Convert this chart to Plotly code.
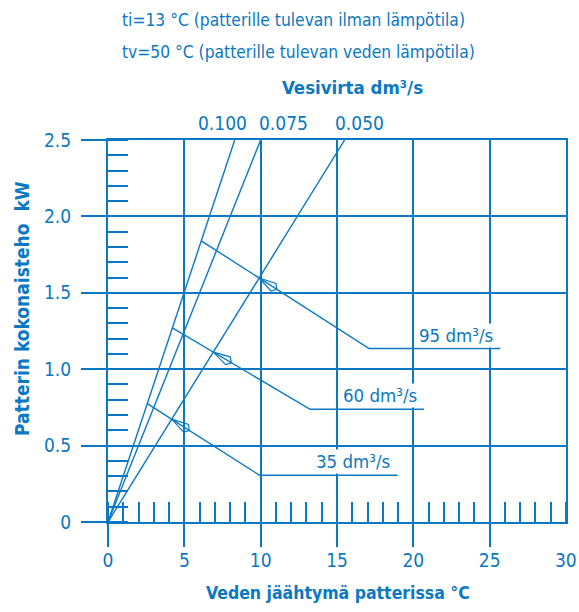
import numpy as np
import plotly.graph_objects as go

# Water-flow lines: each runs from the origin to the cooling (°C) reached at 2.5 kW
water_flow_labels = ["0.100", "0.075", "0.050"]
water_dt_at_top = [8.3, 10.0, 15.5]
water_label_dt = [7.47, 11.5, 16.45]
top_power = 2.5

# Air-flow lines: start on the 0.100 line, cross the 0.050 line, bend to a horizontal leader
air_flow_labels = ["95 dm³/s", "60 dm³/s", "35 dm³/s"]
air_start_power = [1.84, 1.27, 0.775]
air_elbow_dt = [17.1, 13.24, 9.92]
air_elbow_power = [1.135, 0.738, 0.306]
air_leader_end_dt = [25.7, 20.7, 18.96]

# Axis ticks
x_ticks = [0, 5, 10, 15, 20, 25, 30]
y_ticks = [0, 0.5, 1.0, 1.5, 2.0, 2.5]
y_tick_text = ["0", "0.5", "1.0", "1.5", "2.0", "2.5"]

BLUE = "#0a78c2"
FONT = "DejaVu Sans Condensed, Liberation Sans Narrow, Arial Narrow, sans-serif"
TICK_SIZE = 19

W, H = 579, 612
M = dict(l=108, r=13, t=140, b=90)
X_RANGE = [0, 30]
Y_RANGE = [0, 2.5]
sx = (W - M["l"] - M["r"]) / (X_RANGE[1] - X_RANGE[0])  # px per °C
sy = (H - M["t"] - M["b"]) / (Y_RANGE[1] - Y_RANGE[0])  # px per kW

fig = go.Figure()

line_style = dict(color=BLUE, width=1.4)

# water-flow lines through the origin
for dt in water_dt_at_top:
    fig.add_trace(go.Scatter(x=[0, dt], y=[0, top_power], mode="lines",
                             line=line_style, hoverinfo="skip", showlegend=False))

slope_low = water_dt_at_top[-1] / top_power    # °C per kW on the 0.050 line
slope_high = water_dt_at_top[0] / top_power    # °C per kW on the 0.100 line

for p0, ex, ey, xend in zip(air_start_power, air_elbow_dt, air_elbow_power, air_leader_end_dt):
    x0 = slope_high * p0
    # intersection of the air-flow line with the 0.050 water line
    m = (ey - p0) / (ex - x0)          # kW per °C
    yi = (p0 - m * x0) / (1 - m * slope_low)
    xi = slope_low * yi
    fig.add_trace(go.Scatter(x=[x0, ex, xend], y=[p0, ey, ey], mode="lines",
                             line=line_style, hoverinfo="skip", showlegend=False))

    # open dart-shaped arrowhead pointing at the crossing point
    ux, uy = (ex - xi) * sx, -(ey - yi) * sy
    n = np.hypot(ux, uy)
    ux, uy = ux / n, uy / n
    nx, ny = -uy, ux
    pts_px = [(0, 0),
              (17 * ux + 4.5 * nx, 17 * uy + 4.5 * ny),
              (21 * ux, 21 * uy),
              (17 * ux - 4.5 * nx, 17 * uy - 4.5 * ny),
              (0, 0)]
    fig.add_trace(go.Scatter(x=[xi + px / sx for px, py in pts_px],
                             y=[yi - py / sy for px, py in pts_px],
                             mode="lines", line=dict(color=BLUE, width=1.2),
                             hoverinfo="skip", showlegend=False))

# water-flow labels above the chart
for lab, xl in zip(water_flow_labels, water_label_dt):
    fig.add_annotation(x=xl, y=top_power, xref="x", yref="y", text=lab,
                       showarrow=False, yanchor="bottom", yshift=4,
                       font=dict(family=FONT, size=TICK_SIZE, color=BLUE))

# air-flow labels sitting on their leaders
for lab, ey, xend in zip(air_flow_labels, air_elbow_power, air_leader_end_dt):
    fig.add_annotation(x=xend, y=ey, xref="x", yref="y", text=lab,
                       showarrow=False, xanchor="right", yanchor="bottom",
                       xshift=-5, yshift=1, bgcolor="white", borderpad=1,
                       font=dict(family=FONT, size=18.5, color=BLUE))

# last x tick label (no tick stub below the right border)
fig.add_annotation(x=x_ticks[-1], y=0, xref="x", yref="y", text=str(x_ticks[-1]),
                   showarrow=False, yanchor="middle", yshift=-38,
                   font=dict(family=FONT, size=TICK_SIZE, color=BLUE))

def px_to_paper(px, py):
    return ((px - M["l"]) / (W - M["l"] - M["r"]),
            (H - M["b"] - py) / (H - M["t"] - M["b"]))

hdr = dict(family=FONT, size=17.3, color=BLUE)
for txt, py in [("ti=13 °C (patterille tulevan ilman lämpötila)", 20),
                ("tv=50 °C (patterille tulevan veden lämpötila)", 52)]:
    ax_, ay_ = px_to_paper(120, py)
    fig.add_annotation(x=ax_, y=ay_, xref="paper", yref="paper", text=txt,
                       showarrow=False, xanchor="left", yanchor="middle", font=hdr)

def bold(size):
    return dict(family=FONT, size=size, color=BLUE, weight="bold")

ax_, ay_ = px_to_paper(352, 88)
fig.add_annotation(x=ax_, y=ay_, xref="paper", yref="paper", text="Vesivirta dm³/s",
                   showarrow=False, xanchor="center", yanchor="middle", font=bold(18.5))
ax_, ay_ = px_to_paper(338, 593)
fig.add_annotation(x=ax_, y=ay_, xref="paper", yref="paper", text="Veden jäähtymä patterissa °C",
                   showarrow=False, xanchor="center", yanchor="middle", font=bold(17.5))
ax_, ay_ = px_to_paper(22, 309)
fig.add_annotation(x=ax_, y=ay_, xref="paper", yref="paper", text="Patterin kokonaisteho  kW",
                   showarrow=False, xanchor="center", yanchor="middle", textangle=-90,
                   font=bold(19))

axis_common = dict(showline=True, linecolor=BLUE, linewidth=2, mirror=True,
                   showgrid=True, gridcolor=BLUE, gridwidth=2, zeroline=False,
                   ticks="outside", tickcolor=BLUE, tickwidth=2, automargin=False,
                   tickfont=dict(family=FONT, size=TICK_SIZE, color=BLUE))

fig.update_xaxes(range=X_RANGE, tickvals=x_ticks[:-1], ticklen=23,
                 ticklabelstandoff=-3, **axis_common,
                 minor=dict(ticks="inside", dtick=1, ticklen=20, tickcolor=BLUE,
                            tickwidth=1.5, showgrid=False))
fig.update_yaxes(range=Y_RANGE, tickvals=y_ticks, ticktext=y_tick_text, ticklen=25,
                 ticklabelstandoff=6, **axis_common,
                 minor=dict(ticks="inside", dtick=0.1, ticklen=20, tickcolor=BLUE,
                            tickwidth=1.5, showgrid=False))

fig.update_layout(width=W, height=H, margin=M, plot_bgcolor="white",
                  paper_bgcolor="white", showlegend=False)

fig.write_html("out.html")
